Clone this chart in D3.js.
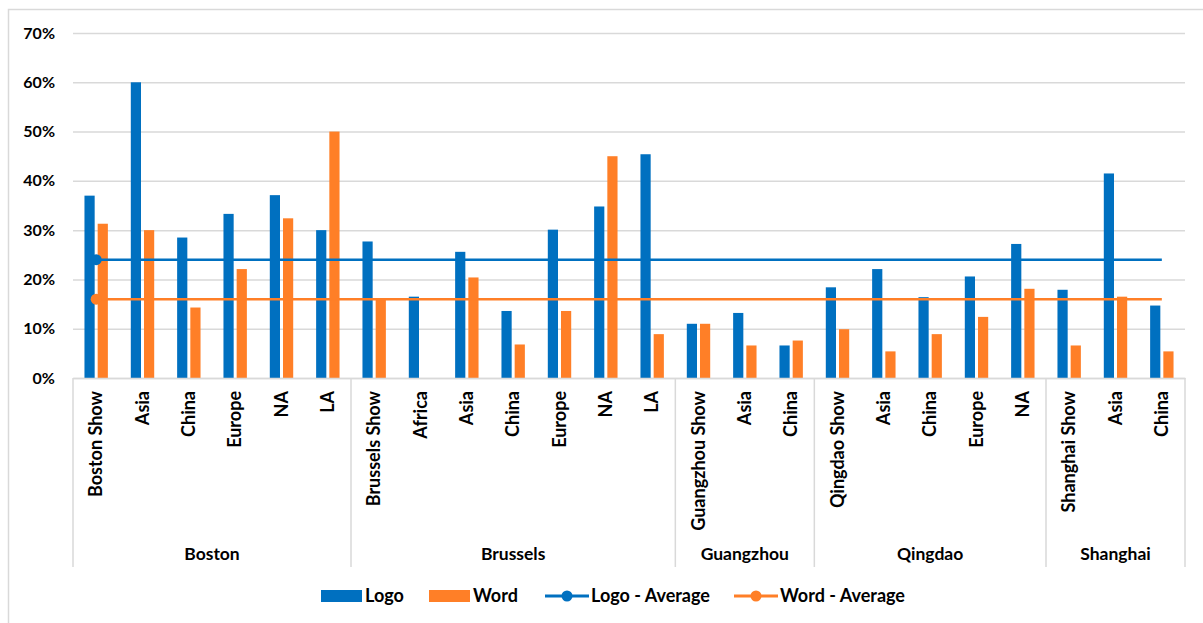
<!DOCTYPE html>
<html>
<head>
<meta charset="utf-8">
<script src="https://cdn.jsdelivr.net/npm/d3@7"></script>
<style>
  body { margin: 0; background: #fff; }
  text { font-family: Lato, "Open Sans", sans-serif; font-weight: 700; fill: #000; }
</style>
</head>
<body>
<svg id="chart"></svg>
<script>
const width = 1203;
const height = 623;

const groups = ["Boston", "Brussels", "Guangzhou", "Qingdao", "Shanghai"];
const categories = [
  "Boston Show", "Asia", "China", "Europe", "NA", "LA",
  "Brussels Show", "Africa", "Asia", "China", "Europe", "NA", "LA",
  "Guangzhou Show", "Asia", "China",
  "Qingdao Show", "Asia", "China", "Europe", "NA",
  "Shanghai Show", "Asia", "China"
];
const categoryGroups = [
  "Boston", "Boston", "Boston", "Boston", "Boston", "Boston",
  "Brussels", "Brussels", "Brussels", "Brussels", "Brussels", "Brussels", "Brussels",
  "Guangzhou", "Guangzhou", "Guangzhou",
  "Qingdao", "Qingdao", "Qingdao", "Qingdao", "Qingdao",
  "Shanghai", "Shanghai", "Shanghai"
];
const logo = [
  0.37, 0.60, 0.285, 0.333, 0.371, 0.30,
  0.277, 0.165, 0.256, 0.136, 0.301, 0.348, 0.454,
  0.11, 0.132, 0.066,
  0.184, 0.221, 0.164, 0.206, 0.272,
  0.179, 0.415, 0.147
];
const word = [
  0.313, 0.30, 0.143, 0.221, 0.324, 0.50,
  0.159, 0, 0.204, 0.068, 0.136, 0.45, 0.089,
  0.11, 0.066, 0.076,
  0.099, 0.054, 0.089, 0.124, 0.181,
  0.066, 0.165, 0.054
];
const logoAverage = 0.24;
const wordAverage = 0.16;
const yTicks = [0, 0.1, 0.2, 0.3, 0.4, 0.5, 0.6, 0.7];

const blue = "#0070c0";
const orange = "#ff7f27";
const grid = "#d9d9d9";

const margin = { left: 73, right: 1185, top: 33, bottom: 378 };

const svg = d3.select("#chart").attr("width", width).attr("height", height);

// outer chart border
svg.append("rect")
  .attr("x", 8.5).attr("y", 9.5)
  .attr("width", 1210).attr("height", 630)
  .attr("fill", "none").attr("stroke", grid).attr("stroke-width", 1.5);

const idx = d3.range(categories.length);

const x = d3.scaleBand()
  .domain(idx)
  .range([margin.left, margin.right]);

const y = d3.scaleLinear()
  .domain([0, 0.7])
  .range([margin.bottom, margin.top]);

// y axis with gridlines
const yAxis = svg.append("g")
  .attr("transform", `translate(${margin.left},0)`)
  .call(d3.axisLeft(y)
    .tickValues(yTicks)
    .tickFormat(d3.format(".0%"))
    .tickSize(-(margin.right - margin.left))
    .tickPadding(18));
yAxis.select(".domain").remove();
yAxis.selectAll(".tick line").attr("stroke", grid).attr("stroke-width", 1.5);
yAxis.selectAll(".tick text").style("font-size", "16px");

// bars
const barW = 10.2;
const gap = 3;
const cx = (i) => x(i) + x.bandwidth() / 2;

svg.append("g").selectAll("rect")
  .data(idx)
  .join("rect")
  .attr("x", (i) => cx(i) - gap / 2 - barW)
  .attr("y", (i) => y(logo[i]))
  .attr("width", barW)
  .attr("height", (i) => y(0) - y(logo[i]))
  .attr("fill", blue);

svg.append("g").selectAll("rect")
  .data(idx)
  .join("rect")
  .attr("x", (i) => cx(i) + gap / 2)
  .attr("y", (i) => y(word[i]))
  .attr("width", barW)
  .attr("height", (i) => y(0) - y(word[i]))
  .attr("fill", orange);

// category axis
const xAxis = svg.append("g")
  .attr("transform", `translate(0,${margin.bottom})`)
  .call(d3.axisBottom(x).tickSize(0).tickFormat((i) => categories[i]));
xAxis.select(".domain").attr("stroke", grid).attr("stroke-width", 1.5);
xAxis.selectAll(".tick text")
  .attr("transform", "rotate(-90)")
  .attr("x", -13)
  .attr("y", 0)
  .attr("dy", "0.35em")
  .attr("text-anchor", "end")
  .style("font-size", "18px");

// group separators and labels
const bounds = [];
groups.forEach((g) => {
  const members = idx.filter((i) => categoryGroups[i] === g);
  const x0 = x(members[0]);
  const x1 = x(members[members.length - 1]) + x.bandwidth();
  bounds.push([x0, x1, g]);
});

const sepX = [margin.left].concat(bounds.map((b) => b[1]));
svg.append("g").selectAll("line")
  .data(sepX)
  .join("line")
  .attr("x1", (d) => d).attr("x2", (d) => d)
  .attr("y1", margin.bottom).attr("y2", 567)
  .attr("stroke", grid).attr("stroke-width", 1.5);

svg.append("g").selectAll("text")
  .data(bounds)
  .join("text")
  .attr("x", (d) => (d[0] + d[1]) / 2)
  .attr("y", 554)
  .attr("dy", "0.35em")
  .attr("text-anchor", "middle")
  .style("font-size", "17.5px")
  .text((d) => d[2]);

// average lines
const avgs = [
  { value: logoAverage, color: blue },
  { value: wordAverage, color: orange }
];
avgs.forEach((a) => {
  svg.append("line")
    .attr("x1", cx(0)).attr("x2", cx(categories.length - 1))
    .attr("y1", y(a.value)).attr("y2", y(a.value))
    .attr("stroke", a.color).attr("stroke-width", 2.5);
  svg.append("circle")
    .attr("cx", cx(0)).attr("cy", y(a.value)).attr("r", 5.5)
    .attr("fill", a.color);
});

// legend
const legendY = 596;
const legend = svg.append("g");
const legendItems = [
  { label: "Logo", color: blue, type: "bar", x: 321 },
  { label: "Word", color: orange, type: "bar", x: 429 },
  { label: "Logo - Average", color: blue, type: "line", x: 545 },
  { label: "Word - Average", color: orange, type: "line", x: 734 }
];
legendItems.forEach((d) => {
  if (d.type === "bar") {
    legend.append("rect")
      .attr("x", d.x).attr("y", legendY - 6)
      .attr("width", 41).attr("height", 12)
      .attr("fill", d.color);
  } else {
    legend.append("line")
      .attr("x1", d.x).attr("x2", d.x + 44)
      .attr("y1", legendY).attr("y2", legendY)
      .attr("stroke", d.color).attr("stroke-width", 3);
    legend.append("circle")
      .attr("cx", d.x + 22).attr("cy", legendY).attr("r", 5.5)
      .attr("fill", d.color);
  }
  legend.append("text")
    .attr("x", d.x + (d.type === "bar" ? 44 : 46))
    .attr("y", legendY)
    .attr("dy", "0.35em")
    .style("font-size", "18px")
    .text(d.label);
});
</script>
</body>
</html>
